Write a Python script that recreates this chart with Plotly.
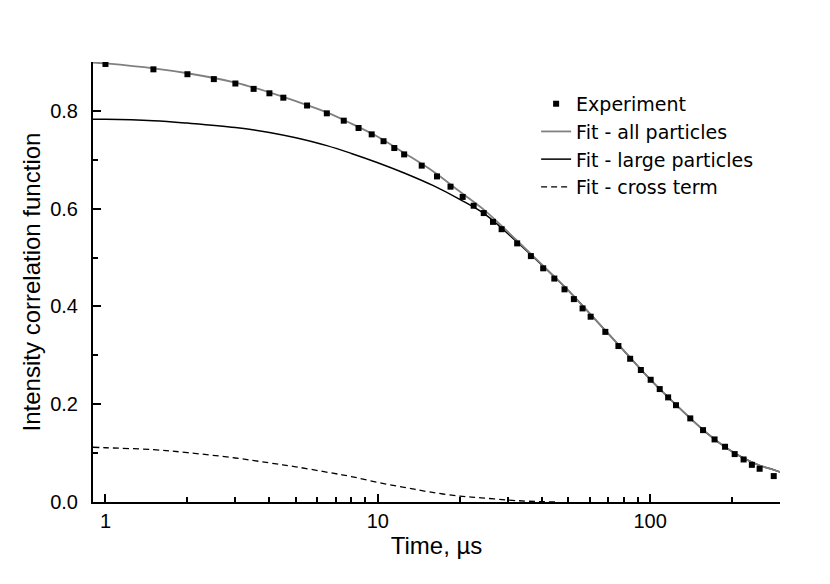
import math
import plotly.graph_objects as go

# experiment (multi-tau correlator channels)
t_exp = [1, 1.5, 2, 2.5, 3, 3.5, 4, 4.5,
         5.5, 6.5, 7.5, 8.5, 9.5, 10.5, 11.5, 12.5,
         14.5, 16.5, 18.5, 20.5, 22.5, 24.5, 26.5, 28.5,
         32.5, 36.5, 40.5, 44.5, 48.5, 52.5, 56.5, 60.5,
         68.5, 76.5, 84.5, 92.5, 100.5, 108.5, 116.5, 124.5,
         140.5, 156.5, 172.5, 188.5, 204.5, 220.5, 236.5, 252.5,
         284.5]
g_exp = [0.896, 0.885, 0.875, 0.865, 0.856, 0.845, 0.836, 0.827,
         0.811, 0.795, 0.780, 0.765, 0.752, 0.738, 0.724, 0.711,
         0.688, 0.666, 0.645, 0.624, 0.606, 0.591, 0.573, 0.558,
         0.529, 0.503, 0.478, 0.457, 0.435, 0.415, 0.396, 0.379,
         0.348, 0.319, 0.293, 0.270, 0.250, 0.231, 0.214, 0.198,
         0.171, 0.147, 0.128, 0.113, 0.098, 0.087, 0.076, 0.068,
         0.053]

# fit curves
t_fit = [0.9, 1, 1.5, 2, 3, 4, 5, 6.5, 8, 10, 12.5, 16, 20, 25, 32, 40,
         50, 63, 80, 100, 125, 160, 188, 220, 252, 284, 300]
g_all = [0.899, 0.897, 0.887, 0.877, 0.858, 0.838, 0.820, 0.797, 0.774,
         0.747, 0.714, 0.676, 0.635, 0.594, 0.538, 0.486, 0.433, 0.373,
         0.310, 0.251, 0.198, 0.143, 0.113, 0.090, 0.075, 0.066, 0.0614]
g_large = [0.783, 0.783, 0.780, 0.775, 0.766, 0.756, 0.745, 0.729, 0.713,
           0.694, 0.673, 0.647, 0.619, 0.587, 0.535, 0.485, 0.433, 0.373,
           0.310, 0.251, 0.198, 0.143, 0.113, 0.090, 0.075, 0.066, 0.0614]

t_cross = [0.9, 1, 1.5, 2, 3, 4, 5, 6.66, 8, 10, 12.5, 15.5, 20, 24, 30,
           36, 45]
g_cross = [0.112, 0.111, 0.107, 0.101, 0.090, 0.080, 0.072, 0.060, 0.052,
           0.040, 0.030, 0.0205, 0.012, 0.0085, 0.004, 0.0015, 0]

FONT = "Liberation Sans, Arial, sans-serif"

fig = go.Figure()
fig.add_trace(go.Scatter(x=t_fit, y=g_large, mode="lines", name="Fit - large particles",
                         line=dict(color="black", width=1.5, shape="spline"),
                         legendrank=3))
fig.add_trace(go.Scatter(x=t_fit, y=g_all, mode="lines", name="Fit - all particles",
                         line=dict(color="#808080", width=1.8, shape="spline"),
                         legendrank=2))
fig.add_trace(go.Scatter(x=t_cross, y=g_cross, mode="lines", name="Fit - cross term",
                         line=dict(color="black", width=1.3, dash="6px,4px", shape="spline"),
                         legendrank=4))
fig.add_trace(go.Scatter(x=t_exp, y=g_exp, mode="markers", name="Experiment",
                         marker=dict(symbol="square", size=6, color="black"),
                         legendrank=1))

# page body adds 8px, so margins are shifted by that
fig.update_layout(
    width=830, height=584,
    margin=dict(l=85, r=58, t=54, b=90),
    plot_bgcolor="white", paper_bgcolor="white",
    font=dict(family=FONT, size=20, color="black"),
    legend=dict(x=0.645, y=0.948, xanchor="left", yanchor="top",
                bgcolor="rgba(0,0,0,0)",
                font=dict(family="DejaVu Sans", size=19, color="black")),
)
fig.update_xaxes(
    type="log", range=[math.log10(0.9), math.log10(300)],
    showline=True, linecolor="black", linewidth=2, mirror=False,
    showgrid=False, zeroline=False,
    tickvals=[1, 10, 100], ticktext=["1", "10", "100"],
    ticks="inside", ticklen=8, tickwidth=2, tickcolor="black",
    minor=dict(tickvals=[2, 3, 4, 5, 6, 7, 8, 9, 20, 30, 40, 50, 60, 70, 80, 90, 200, 300],
               ticks="inside", ticklen=5, tickwidth=2, tickcolor="black", showgrid=False),
    title_text="Time, µs", title_standoff=6,
)
fig.update_yaxes(
    range=[0, 0.9],
    showline=True, linecolor="black", linewidth=2, mirror=False,
    showgrid=False, zeroline=False,
    tickvals=[0, 0.2, 0.4, 0.6, 0.8], tickformat=".1f",
    ticklabelstandoff=9,
    ticks="inside", ticklen=8, tickwidth=2, tickcolor="black",
    minor=dict(tickvals=[0.1, 0.3, 0.5, 0.7, 0.9],
               ticks="inside", ticklen=5, tickwidth=2, tickcolor="black", showgrid=False),
    title_text="Intensity correlation function", title_standoff=3,
)

fig.write_html("out.html")
